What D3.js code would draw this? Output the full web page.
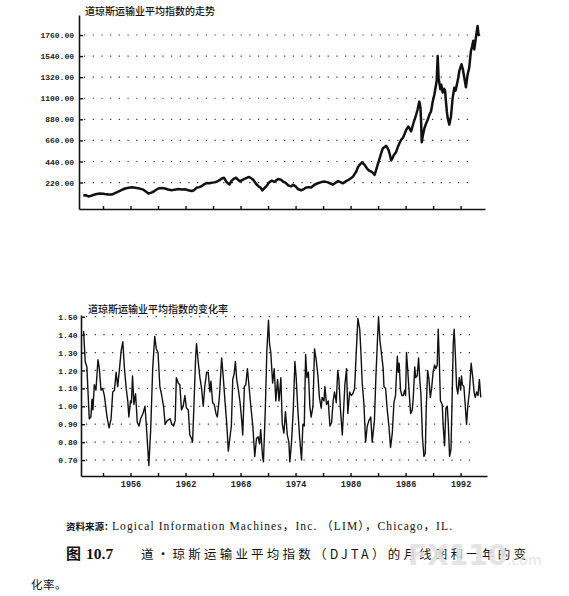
<!DOCTYPE html>
<html>
<head>
<meta charset="utf-8">
<script src="https://cdn.jsdelivr.net/npm/d3@7"></script>
<style>
  body { margin: 0; background: #fff; }
  svg { display: block; }
</style>
</head>
<body>
<svg id="chart" width="569" height="596"></svg>
<script>
// DJTA monthly level: [year, index]
const djtaLevel = [
  [1950.85, 84], [1951.1, 88], [1951.4, 75], [1951.7, 82], [1951.94, 90], [1952.3, 100],
  [1952.67, 106], [1953.0, 104], [1953.2, 101], [1953.6, 96], [1953.95, 95], [1954.3, 110],
  [1954.67, 126], [1955.0, 140], [1955.4, 158], [1955.8, 165], [1956.13, 170], [1956.5, 165],
  [1956.85, 160], [1957.4, 146], [1957.7, 125], [1957.94, 106], [1958.2, 112], [1958.49, 124],
  [1958.8, 145], [1959.03, 158], [1959.4, 162], [1959.76, 158], [1960.1, 148], [1960.49, 140],
  [1960.8, 146], [1961.2, 152], [1961.6, 148], [1961.94, 150], [1962.3, 140], [1962.67, 132],
  [1962.9, 140], [1963.2, 165], [1963.5, 172], [1963.75, 182], [1964.0, 200], [1964.3, 215],
  [1964.6, 212], [1964.85, 218], [1965.1, 222], [1965.4, 228], [1965.7, 245], [1965.94, 262],
  [1966.2, 270], [1966.49, 222], [1966.8, 200], [1967.03, 240], [1967.3, 262], [1967.5, 270],
  [1967.7, 252], [1967.94, 232], [1968.2, 248], [1968.49, 262], [1968.8, 275], [1968.95, 278],
  [1969.2, 262], [1969.4, 246], [1969.7, 205], [1969.94, 182], [1970.2, 165], [1970.37, 138],
  [1970.6, 162], [1970.85, 185], [1971.1, 220], [1971.4, 240], [1971.7, 228], [1972.1, 258],
  [1972.4, 250], [1972.66, 228], [1972.9, 220], [1973.2, 190], [1973.5, 180], [1973.75, 196],
  [1974.0, 180], [1974.3, 150], [1974.6, 140], [1974.84, 148], [1975.1, 165], [1975.4, 172],
  [1975.7, 168], [1976.1, 200], [1976.5, 215], [1976.82, 225], [1977.2, 230], [1977.54, 222],
  [1977.8, 210], [1978.09, 200], [1978.4, 220], [1978.63, 235], [1978.9, 225], [1979.17, 212],
  [1979.45, 232], [1979.72, 245], [1980.0, 262], [1980.26, 282], [1980.45, 310], [1980.62, 335],
  [1980.8, 380], [1980.99, 405], [1981.24, 432], [1981.53, 405], [1981.7, 380], [1981.89, 355],
  [1982.05, 345], [1982.25, 335], [1982.45, 320], [1982.62, 300], [1982.75, 340], [1982.9, 388],
  [1983.16, 470], [1983.35, 530], [1983.52, 578], [1983.7, 590], [1983.88, 603], [1984.14, 560],
  [1984.3, 505], [1984.43, 450], [1984.6, 480], [1984.72, 508], [1984.97, 540], [1985.15, 590],
  [1985.33, 630], [1985.5, 665], [1985.7, 685], [1985.9, 730], [1986.06, 770], [1986.31, 805],
  [1986.45, 780], [1986.6, 755], [1986.9, 855], [1987.14, 925], [1987.3, 980], [1987.5, 1065],
  [1987.62, 1000], [1987.69, 860], [1987.76, 640], [1987.9, 720], [1988.05, 785], [1988.25, 840],
  [1988.41, 875], [1988.6, 930], [1988.78, 965], [1988.95, 1060], [1989.14, 1140], [1989.3, 1230],
  [1989.39, 1280], [1989.5, 1540], [1989.6, 1310], [1989.7, 1250], [1989.79, 1195], [1989.9, 1240],
  [1990.04, 1160], [1990.2, 1200], [1990.3, 1180], [1990.4, 1070], [1990.5, 960], [1990.59, 895],
  [1990.77, 825], [1990.95, 910], [1991.13, 1100], [1991.31, 1210], [1991.45, 1180], [1991.6, 1245],
  [1991.75, 1320], [1991.86, 1385], [1992.1, 1455], [1992.25, 1400], [1992.4, 1315], [1992.58, 1215],
  [1992.76, 1345], [1992.94, 1420], [1993.12, 1590], [1993.25, 1640], [1993.38, 1700], [1993.49, 1610],
  [1993.67, 1735], [1993.85, 1855], [1993.95, 1770], [1994.03, 1750]
];

// 12-month rate of change: [year, ratio]
const djtaChange = [
  [1950.88, 1.42], [1951.06, 1.25], [1951.24, 1.22], [1951.5, 0.93], [1951.68, 0.94], [1951.8, 1.04],
  [1951.9, 0.98], [1952.05, 1.12], [1952.23, 1.09], [1952.45, 1.26], [1952.6, 1.21], [1952.78, 1.09],
  [1952.96, 1.10], [1953.15, 1.06], [1953.44, 0.94], [1953.66, 0.88], [1953.88, 0.93], [1954.06, 1.08],
  [1954.25, 1.09], [1954.43, 1.19], [1954.6, 1.11], [1954.8, 1.21], [1954.98, 1.31], [1955.16, 1.36],
  [1955.34, 1.21], [1955.53, 1.10], [1955.7, 1.03], [1955.82, 0.94], [1956.0, 1.03], [1956.1, 1.02],
  [1956.22, 1.17], [1956.37, 1.01], [1956.55, 1.07], [1956.74, 0.91], [1956.92, 0.89], [1957.1, 0.93],
  [1957.36, 0.96], [1957.58, 1.00], [1957.73, 0.89], [1958.0, 0.67], [1958.2, 0.87], [1958.42, 1.21],
  [1958.64, 1.39], [1958.82, 1.32], [1959.0, 1.30], [1959.2, 1.11], [1959.37, 1.07], [1959.6, 1.00],
  [1959.78, 0.90], [1960.0, 0.92], [1960.33, 0.93], [1960.5, 0.90], [1960.7, 0.89], [1960.87, 0.92],
  [1961.0, 1.16], [1961.2, 1.13], [1961.38, 1.12], [1961.56, 0.98], [1961.74, 1.00], [1961.93, 1.06],
  [1962.1, 0.99], [1962.3, 0.98], [1962.47, 0.84], [1962.66, 0.82], [1962.77, 0.80], [1962.9, 0.98],
  [1963.1, 1.27], [1963.2, 1.35], [1963.4, 1.24], [1963.57, 1.16], [1963.75, 1.10], [1963.93, 1.00],
  [1964.1, 1.11], [1964.3, 1.19], [1964.47, 1.19], [1964.66, 1.08], [1964.77, 1.14], [1964.96, 1.02],
  [1965.14, 1.01], [1965.32, 0.96], [1965.47, 0.94], [1965.69, 1.05], [1965.94, 1.27], [1966.12, 1.16],
  [1966.3, 1.03], [1966.5, 0.90], [1966.67, 0.75], [1966.85, 0.83], [1967.0, 0.89], [1967.15, 1.15],
  [1967.3, 1.18], [1967.44, 1.25], [1967.58, 1.15], [1967.77, 1.09], [1967.95, 1.02], [1968.13, 0.92],
  [1968.24, 0.84], [1968.42, 1.11], [1968.57, 1.12], [1968.75, 1.21], [1968.93, 1.11], [1969.12, 1.00],
  [1969.34, 0.89], [1969.55, 0.72], [1969.74, 0.82], [1969.92, 0.83], [1970.07, 0.79], [1970.2, 0.87],
  [1970.4, 0.72], [1970.5, 0.69], [1970.7, 0.98], [1970.87, 1.31], [1971.05, 1.48], [1971.16, 1.35],
  [1971.3, 1.30], [1971.5, 1.13], [1971.67, 1.21], [1971.85, 1.03], [1972.04, 1.15], [1972.2, 1.03],
  [1972.4, 1.16], [1972.55, 0.90], [1972.73, 0.85], [1972.9, 0.97], [1973.1, 0.84], [1973.27, 0.80],
  [1973.38, 0.69], [1973.56, 0.80], [1973.75, 0.98], [1973.93, 1.25], [1974.07, 1.16], [1974.25, 0.98],
  [1974.44, 0.83], [1974.65, 0.70], [1974.8, 0.90], [1974.95, 0.89], [1975.1, 1.29], [1975.24, 1.16],
  [1975.4, 1.19], [1975.56, 1.00], [1975.7, 0.94], [1975.9, 1.00], [1976.07, 1.32], [1976.25, 1.26],
  [1976.44, 1.17], [1976.6, 1.05], [1976.8, 0.99], [1976.9, 1.05], [1977.1, 1.03], [1977.2, 1.11],
  [1977.38, 1.01], [1977.56, 1.03], [1977.75, 0.89], [1977.93, 0.91], [1978.1, 1.03], [1978.25, 1.08],
  [1978.44, 1.02], [1978.6, 1.20], [1978.73, 1.15], [1978.9, 0.98], [1979.1, 0.84], [1979.27, 1.01],
  [1979.38, 1.12], [1979.56, 1.21], [1979.7, 0.96], [1979.9, 1.08], [1980.07, 1.06], [1980.25, 1.07],
  [1980.44, 1.10], [1980.6, 1.28], [1980.8, 1.49], [1981.0, 1.43], [1981.13, 1.30], [1981.27, 1.13],
  [1981.45, 1.02], [1981.64, 0.80], [1981.82, 0.89], [1982.0, 0.92], [1982.2, 0.94], [1982.36, 0.80],
  [1982.6, 0.92], [1982.76, 1.16], [1982.95, 1.39], [1983.05, 1.50], [1983.2, 1.37], [1983.38, 1.29],
  [1983.56, 1.21], [1983.64, 1.11], [1983.82, 1.10], [1984.0, 0.98], [1984.18, 0.89], [1984.36, 0.77],
  [1984.55, 0.85], [1984.73, 1.02], [1984.9, 1.06], [1985.1, 1.28], [1985.2, 1.19], [1985.3, 1.24],
  [1985.45, 1.09], [1985.6, 1.06], [1985.75, 1.06], [1985.9, 1.09], [1986.0, 1.06], [1986.1, 1.30],
  [1986.25, 1.19], [1986.44, 1.04], [1986.55, 0.96], [1986.73, 0.98], [1986.84, 1.05], [1987.0, 1.22],
  [1987.1, 1.16], [1987.27, 1.17], [1987.42, 1.27], [1987.56, 1.14], [1987.67, 1.07], [1987.85, 0.82],
  [1988.0, 0.72], [1988.15, 0.74], [1988.25, 0.98], [1988.4, 1.20], [1988.55, 1.15], [1988.7, 1.05],
  [1988.84, 1.10], [1989.0, 1.19], [1989.16, 1.23], [1989.3, 1.21], [1989.45, 1.23], [1989.56, 1.43],
  [1989.67, 1.27], [1989.8, 1.03], [1990.0, 1.01], [1990.1, 0.89], [1990.25, 0.78], [1990.4, 0.99],
  [1990.55, 1.00], [1990.65, 0.91], [1990.8, 0.72], [1990.95, 0.76], [1991.1, 1.10], [1991.2, 1.35],
  [1991.3, 1.43], [1991.42, 1.30], [1991.56, 1.11], [1991.7, 1.07], [1991.85, 1.16], [1992.0, 1.09],
  [1992.1, 1.17], [1992.2, 1.12], [1992.36, 1.11], [1992.5, 1.01], [1992.65, 0.90], [1992.8, 1.01],
  [1992.96, 1.08], [1993.15, 1.24], [1993.33, 1.16], [1993.47, 1.08], [1993.6, 1.05], [1993.76, 1.08],
  [1993.9, 1.06], [1994.05, 1.15], [1994.2, 1.05]
];

const levelTicks = [220, 440, 660, 880, 1100, 1320, 1540, 1760];
const changeTicks = [0.70, 0.80, 0.90, 1.00, 1.10, 1.20, 1.30, 1.40, 1.50];
const yearTicks = [1953, 1956, 1959, 1962, 1965, 1968, 1971, 1974, 1977, 1980, 1983, 1986, 1989, 1992];
const yearLabels = [1956, 1962, 1968, 1974, 1980, 1986, 1992];

const levelTitle = "道琼斯运输业平均指数的走势";
const changeTitle = "道琼斯运输业平均指数的变化率";
const sourceHead = "资料来源：";
const sourceBody = "Logical Information Machines，Inc. （LIM），Chicago，IL.";
const figNo = "图";
const figNum = "10.7";
const figText = "道·琼斯运输业平均指数（DJTA）的月线图和一年的变";
const figText2 = "化率。";

const svg = d3.select("#chart");
const monoFont = "'Liberation Mono', 'DejaVu Sans Mono', monospace";
const cjkFont = "'Noto Sans CJK SC', sans-serif";
const gridEnd = 1993.46;

// ---------- upper panel ----------
const xTop = d3.scaleLinear().domain([1950.38, 1994.66]).range([79, 485]);
const yTop = d3.scaleLinear().domain([-56, 1969]).range([209, 15]);

const topPanel = svg.append("g");

topPanel.append("g")
  .selectAll("line")
  .data(levelTicks)
  .join("line")
  .attr("x1", xTop.range()[0] + 5)
  .attr("x2", xTop(gridEnd))
  .attr("y1", d => yTop(d))
  .attr("y2", d => yTop(d))
  .attr("stroke", "#333")
  .attr("stroke-width", 1.2)
  .attr("stroke-dasharray", "1.2 7.5");

const yAxisTop = topPanel.append("g")
  .attr("transform", `translate(${xTop.range()[0]},0)`)
  .call(d3.axisLeft(yTop).tickValues(levelTicks).tickSize(-4).tickSizeOuter(0)
    .tickPadding(5).tickFormat(d3.format(".2f")));

const xAxisTop = topPanel.append("g")
  .attr("transform", `translate(0,${yTop.range()[0]})`)
  .call(d3.axisBottom(xTop).tickValues(yearTicks).tickSize(-3).tickSizeOuter(0)
    .tickFormat(() => ""));

topPanel.append("path")
  .datum(djtaLevel)
  .attr("fill", "none")
  .attr("stroke", "#111")
  .attr("stroke-width", 2.5)
  .attr("stroke-linejoin", "round")
  .attr("d", d3.line().x(d => xTop(d[0])).y(d => yTop(d[1])));

topPanel.append("text")
  .attr("x", 85).attr("y", 14.5)
  .attr("font-family", cjkFont).attr("font-size", 10).attr("font-weight", 500)
  .attr("fill", "#111")
  .text(levelTitle);

// ---------- lower panel ----------
const xBot = d3.scaleLinear().domain([1950.6, 1994.88]).range([81, 487]);
const yBot = d3.scaleLinear().domain([0.611, 1.5095]).range([476, 315]);

const botPanel = svg.append("g");

botPanel.append("g")
  .selectAll("line")
  .data(changeTicks)
  .join("line")
  .attr("x1", xBot.range()[0] + 5)
  .attr("x2", xBot(gridEnd))
  .attr("y1", d => yBot(d))
  .attr("y2", d => yBot(d))
  .attr("stroke", "#333")
  .attr("stroke-width", 1.2)
  .attr("stroke-dasharray", "1.2 7.5");

const yAxisBot = botPanel.append("g")
  .attr("transform", `translate(${xBot.range()[0]},0)`)
  .call(d3.axisLeft(yBot).tickValues(changeTicks).tickSize(-4).tickSizeOuter(0)
    .tickPadding(3.5).tickFormat(d3.format(".2f")));

const xAxisBot = botPanel.append("g")
  .attr("transform", `translate(0,${yBot.range()[0]})`)
  .call(d3.axisBottom(xBot).tickValues(yearTicks).tickSize(-3).tickSizeOuter(0)
    .tickPadding(5).tickFormat(d => yearLabels.includes(d) ? String(d) : ""));

botPanel.append("path")
  .datum(djtaChange)
  .attr("fill", "none")
  .attr("stroke", "#111")
  .attr("stroke-width", 1.4)
  .attr("stroke-linejoin", "round")
  .attr("d", d3.line().x(d => xBot(d[0])).y(d => yBot(d[1])));

botPanel.append("text")
  .attr("x", 88).attr("y", 313)
  .attr("font-family", cjkFont).attr("font-size", 10).attr("font-weight", 500)
  .attr("fill", "#111")
  .text(changeTitle);

// axis styling shared by both panels
[yAxisTop, xAxisTop, yAxisBot, xAxisBot].forEach(ax => {
  ax.select(".domain").attr("stroke", "#111").attr("stroke-width", 1.6);
  ax.selectAll(".tick line").attr("stroke", "#111").attr("stroke-width", 1.4);
  ax.selectAll(".tick text")
    .attr("font-family", monoFont)
    .attr("font-size", 8)
    .attr("font-weight", "bold")
    .attr("fill", "#222");
});
xAxisBot.selectAll(".tick text").attr("font-size", 8.5);

// ---------- caption ----------
const cap = svg.append("g").attr("fill", "#111");

cap.append("text")
  .attr("x", 66).attr("y", 530)
  .attr("font-family", cjkFont).attr("font-size", 9.5).attr("font-weight", "bold")
  .text(sourceHead);

cap.append("text")
  .attr("x", 112).attr("y", 530)
  .attr("font-family", "'Liberation Serif', 'Noto Sans CJK SC', serif").attr("font-size", 11.5)
  .attr("textLength", 340).attr("lengthAdjust", "spacing")
  .text(sourceBody);

const figLine = cap.append("text")
  .attr("x", 66).attr("y", 559)
  .attr("font-weight", "bold");
figLine.append("tspan")
  .attr("font-family", cjkFont).attr("font-size", 15)
  .text(figNo);
figLine.append("tspan")
  .attr("dx", 5)
  .attr("font-family", "'Liberation Serif', serif").attr("font-size", 15.5)
  .text(figNum);

cap.append("text")
  .attr("x", 141).attr("y", 559)
  .attr("font-family", cjkFont).attr("font-size", 12.5)
  .attr("textLength", 385).attr("lengthAdjust", "spacing")
  .text(figText);

cap.append("text")
  .attr("x", 31).attr("y", 589)
  .attr("font-family", cjkFont).attr("font-size", 11.5)
  .attr("letter-spacing", 0.5)
  .text(figText2);

// faint site watermark over the caption
const wm = svg.append("text")
  .attr("x", 408).attr("y", 565)
  .attr("font-family", "'DejaVu Sans', sans-serif").attr("font-weight", "bold")
  .attr("fill", "#e2e2e2").attr("opacity", 0.9);
wm.append("tspan").attr("font-size", 28).text("FX110");
wm.append("tspan").attr("font-size", 14).attr("font-weight", "normal").text(".com");
</script>
</body>
</html>
